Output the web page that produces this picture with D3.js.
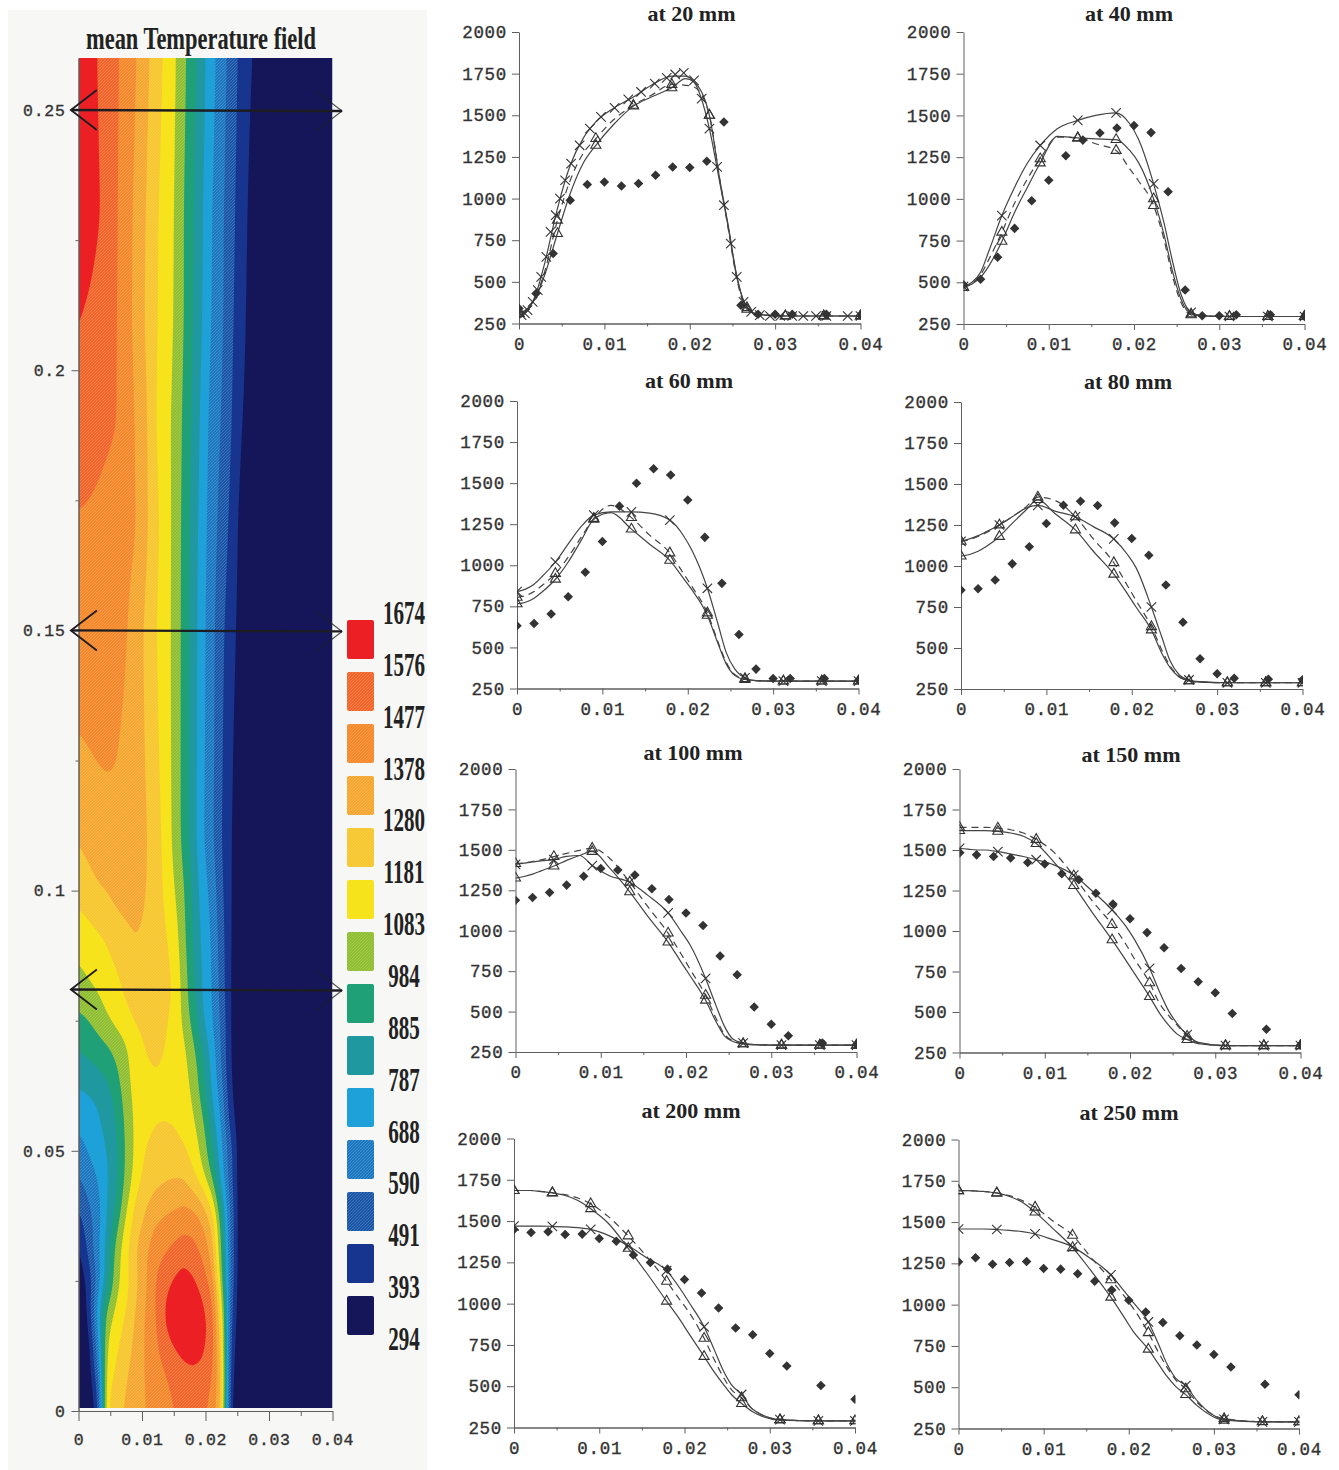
<!DOCTYPE html>
<html lang="en">
<head>
<meta charset="UTF-8">
<title>mean Temperature field</title>
<script src="https://d3js.org/d3.v7.min.js"></script>
<style>
  html, body { margin: 0; background: #fff; }
  svg { display: block; }
  .mono { font-family: "Liberation Mono", monospace; fill: #333; stroke: #333; stroke-width: .35px; }
  .serif { font-family: "Liberation Serif", serif; font-weight: bold; fill: #222; }
</style>
</head>
<body>
<svg id="chart" width="1339" height="1470"></svg>
<script>
// ---- temperature field: rows of T ----
const fieldR = [0, .0015, .003, .0045, .006, .0075, .009, .0105, .012, .0135, .015, .0165, .018, .0195, .021, .0225, .024, .0255, .027, .04];
const fieldZ = [.26, .23, .21, .19, .17, .15, .13, .11, .10, .09, .085, .08, .075, .07, .065, .06, .055, .05, .045, .04, .035, .03, .025, .02, .015, .01, .005, 0];
const fieldT = [
  [1680,1630,1572,1530,1490,1440,1385,1315,1240,1170,1105,1010,925,820,722,637,552,466,395,294],
  [1660,1630,1590,1540,1485,1420,1358,1285,1205,1145,1088,990,895,795,690,612,530,440,375,294],
  [1578,1560,1535,1510,1482,1418,1352,1275,1200,1140,1083,990,888,784,680,610,515,430,365,294],
  [1540,1530,1515,1498,1480,1430,1372,1305,1190,1125,1065,970,870,755,650,587,500,400,360,294],
  [1465,1460,1450,1435,1420,1405,1385,1307,1218,1140,1062,960,850,735,635,555,465,365,340,294],
  [1440,1435,1430,1420,1405,1385,1336,1266,1195,1130,1062,955,845,720,622,518,430,360,330,294],
  [1378,1388,1395,1395,1385,1365,1340,1275,1210,1140,1060,955,840,715,620,505,410,345,325,294],
  [1288,1310,1335,1350,1358,1350,1335,1295,1230,1160,1060,955,835,705,610,495,395,340,320,294],
  [1222,1245,1270,1288,1315,1325,1318,1285,1240,1170,1093,1000,870,740,655,515,393,335,315,294],
  [1105,1130,1155,1178,1215,1250,1276,1262,1235,1200,1150,1020,885,770,680,540,390,330,312,294],
  [1083,1105,1130,1160,1183,1220,1250,1250,1235,1210,1165,1040,900,775,685,545,385,325,310,294],
  [1023,1050,1078,1115,1150,1190,1225,1240,1235,1210,1180,1050,915,785,690,555,385,325,305,294],
  [960,980,1025,1080,1125,1160,1195,1210,1215,1200,1150,1065,940,800,690,570,385,322,305,294],
  [899,920,945,970,1010,1060,1130,1185,1198,1185,1140,1110,1015,880,745,580,385,322,303,294],
  [825,845,870,900,975,1065,1125,1165,1178,1170,1150,1120,1050,920,770,590,390,322,302,294],
  [760,770,790,845,905,1035,1115,1150,1165,1165,1155,1125,1075,945,790,650,410,322,302,294],
  [705,730,770,815,885,1005,1105,1145,1170,1175,1170,1145,1105,1020,850,680,440,322,300,294],
  [650,695,740,790,875,1000,1110,1190,1220,1235,1230,1195,1145,1055,910,720,540,322,300,294],
  [590,640,690,770,865,1000,1115,1205,1240,1255,1265,1270,1190,1090,960,740,500,322,300,294],
  [510,580,650,790,890,1055,1205,1270,1310,1335,1355,1370,1360,1300,1150,870,570,320,300,294],
  [430,530,630,795,960,1120,1240,1300,1390,1420,1440,1465,1460,1400,1300,960,550,320,298,294],
  [370,510,690,850,1050,1175,1290,1385,1440,1475,1510,1540,1525,1470,1330,985,570,318,298,294],
  [310,395,560,830,1030,1135,1240,1340,1477,1540,1590,1625,1590,1535,1440,1020,560,315,298,294],
  [300,420,780,1000,1110,1180,1285,1385,1470,1585,1640,1670,1650,1600,1520,1150,520,310,296,294],
  [298,360,650,1070,1150,1215,1300,1385,1455,1570,1620,1660,1670,1620,1540,1220,480,308,296,294],
  [296,320,620,1110,1180,1250,1320,1385,1440,1490,1540,1570,1590,1580,1510,1250,440,305,296,294],
  [295,310,500,1150,1215,1280,1335,1380,1420,1455,1495,1530,1530,1520,1480,1300,420,300,295,294],
  [294,300,420,1180,1245,1300,1340,1375,1405,1435,1470,1495,1500,1490,1440,1250,380,297,295,294]
];
const legendLevels = [294, 393, 491, 590, 688, 787, 885, 984, 1083, 1181, 1280, 1378, 1477, 1576, 1674];
const bandColors = ["#141659", "#17358e", "#1a56a8", "#1b78c0", "#1ea0d8", "#1f989f", "#1fa077", "#8fbf30", "#f6e31c", "#f6c62c", "#f5a62e", "#f4882a", "#f1652a", "#ec2024"];
const bandHatched = [0, 0, 1, 1, 0, 0, 0, 1, 0, 1, 1, 1, 1, 0];
const arrowZ = [.25, .15, .081];

// ---- profile panels ----
const radiusLine = [0, .001, .002, .003, .0045, .006, .0075, .009, .011, .0134, .0155, .0179, .0195, .0205, .0223, .0235, .0245, .0255, .0267, .028, .0312, .0357, .04];
const markerIndex = [0, 4, 7, 9, 11, 14, 18, 20, 21, 22];
const radiusExpt = [0, .002, .004, .006, .008, .01, .012, .014, .016, .018, .02, .022, .024, .026, .028, .03, .032, .036, .04];

const triA20 = [310,340,410,540,790,1030,1210,1320,1440,1555,1610,1665,1720,1700,1500,1120,840,540,345,305,295,295,295];
const triB20 = [310,340,420,560,870,1110,1270,1360,1470,1560,1620,1685,1680,1670,1500,1120,820,520,335,305,295,295,295];
const cross20 = [300,330,430,610,940,1200,1360,1460,1540,1610,1680,1735,1735,1700,1420,1100,830,530,350,305,295,295,295];
const expt20 = [340,430,670,990,1084,1100,1076,1090,1140,1190,1186,1224,1460,360,305,305,305,305,300];
// the 20 mm cross curve carries many more marks than the others
const crossMarkR20 = [.0003,.0007,.001,.0016,.0022,.0026,.0032,.0037,.0043,.0048,.0054,.0061,.0071,.0083,.0096,.0112,.0128,.0143,.0159,.0173,.0183,.0193,.0205,.0214,.0223,.0232,.024,.0248,.0255,.0263,.0272,.0282,.0294,.0306,.032,.0333,.0348,.036,.0385,.04];
const crossMarkT20 = [300,310,330,380,450,530,650,800,900,1000,1110,1210,1320,1420,1490,1545,1595,1640,1690,1725,1745,1755,1710,1600,1420,1190,960,730,530,380,320,300,295,295,295,295,295,295,295,295];

const triA40 = [470,490,530,600,745,920,1070,1215,1375,1365,1360,1355,1290,1220,1000,790,570,400,310,298,295,295,295];
const triB40 = [470,495,545,640,800,975,1120,1240,1370,1365,1330,1290,1180,1110,960,760,540,380,305,298,295,295,295];
const cross40 = [475,500,560,690,900,1070,1215,1320,1420,1470,1500,1515,1450,1360,1090,860,630,430,320,300,295,295,295];
const expt40 = [485,518,650,823,989,1112,1258,1352,1395,1425,1440,1397,1042,454,300,300,305,305,295];

const triA60 = [765,775,800,840,915,1020,1150,1280,1320,1220,1130,1030,920,850,695,530,400,330,305,298,295,295,295];
const triB60 = [805,815,840,880,950,1050,1170,1285,1365,1290,1185,1075,950,870,710,540,410,335,310,298,295,295,295];
const cross60 = [840,855,885,935,1020,1130,1235,1305,1325,1325,1318,1275,1180,1090,860,650,470,370,315,298,295,295,295];
const expt60 = [632,646,703,808,957,1145,1360,1499,1588,1549,1397,1170,890,579,368,311,311,311,300];

const triA80 = [1060,1070,1090,1120,1180,1260,1335,1405,1320,1220,1090,950,830,750,610,470,380,325,300,292,288,288,288];
const triB80 = [1150,1160,1180,1205,1250,1300,1355,1420,1400,1300,1165,1020,880,790,630,490,390,330,300,292,288,288,288];
const cross80 = [1150,1165,1185,1210,1250,1300,1350,1370,1335,1300,1240,1165,1070,990,750,570,420,340,305,295,288,288,288];
const expt80 = [853,861,914,1013,1117,1259,1371,1395,1369,1263,1168,1066,884,657,434,343,316,310,306];

const triA100 = [1325,1335,1350,1370,1400,1435,1465,1490,1390,1240,1090,930,800,720,570,440,350,315,300,295,292,292,292];
const triB100 = [1415,1420,1428,1438,1458,1478,1497,1510,1450,1300,1150,985,850,760,600,460,360,320,300,295,292,292,292];
const cross100 = [1410,1418,1425,1432,1440,1460,1465,1403,1340,1300,1220,1110,990,910,705,540,410,330,305,295,292,292,292];
const expt100 = [1189,1205,1236,1282,1337,1385,1375,1344,1259,1193,1110,1032,844,728,528,422,350,305,297];

const triA150 = [1620,1620,1620,1620,1615,1605,1585,1540,1430,1280,1120,945,820,740,595,490,420,365,330,305,292,292,292];
const triB150 = [1640,1640,1640,1640,1635,1625,1605,1565,1490,1340,1190,1040,920,830,680,550,480,420,350,310,292,292,292];
const cross150 = [1510,1505,1500,1500,1490,1475,1460,1440,1410,1345,1250,1130,1030,950,770,620,510,430,360,312,292,292,292];
const expt150 = [1481,1470,1460,1450,1423,1413,1353,1316,1233,1167,1075,990,897,768,687,619,491,393,296];

const triA200 = [1685,1685,1685,1680,1670,1655,1625,1575,1490,1335,1190,1015,900,820,680,585,515,450,395,345,295,290,290];
const triB200 = [1685,1685,1685,1680,1672,1660,1640,1605,1530,1410,1290,1135,1020,950,790,660,560,480,430,360,298,290,290];
const cross200 = [1470,1470,1470,1470,1468,1465,1460,1450,1415,1350,1280,1200,1090,1010,860,720,600,510,450,360,298,290,290];
const expt200 = [1449,1431,1435,1419,1421,1395,1378,1294,1249,1209,1146,1065,973,852,811,698,623,504,421];

const triA250 = [1690,1690,1688,1685,1675,1655,1620,1560,1465,1345,1210,1045,920,840,730,640,565,505,455,390,300,290,290];
const triB250 = [1690,1690,1688,1685,1677,1660,1630,1590,1510,1420,1290,1150,1050,980,830,710,620,545,490,410,310,292,290];
const cross250 = [1458,1458,1458,1458,1455,1450,1442,1428,1395,1350,1280,1180,1080,1015,895,760,640,555,510,420,305,290,290];
const expt250 = [1259,1284,1245,1255,1261,1219,1215,1187,1142,1088,1027,955,892,811,755,698,623,518,455];

const panelTitles = ["at 20 mm", "at 40 mm", "at 60 mm", "at 80 mm", "at 100 mm", "at 150 mm", "at 200 mm", "at 250 mm"];
const panelSeries = [
  [triA20, triB20, cross20, expt20], [triA40, triB40, cross40, expt40],
  [triA60, triB60, cross60, expt60], [triA80, triB80, cross80, expt80],
  [triA100, triB100, cross100, expt100], [triA150, triB150, cross150, expt150],
  [triA200, triB200, cross200, expt200], [triA250, triB250, cross250, expt250]
];
const yTicks = [250, 500, 750, 1000, 1250, 1500, 1750, 2000];
const rTicks = [0, .01, .02, .03, .04];
const rMinor = [.005, .015, .025, .035];
const zTicks = [0, .05, .1, .15, .2, .25];
const zMinor = [.025, .075, .125, .175, .225];

// layout, kept apart from the data
const boxes = [
  {x0: 519, x1: 860.5, y0: 323.5, y1: 32, tx: 691.5, ty: 21},
  {x0: 963.5, x1: 1304.5, y0: 324, y1: 32, tx: 1129, ty: 21},
  {x0: 517, x1: 858.5, y0: 688.5, y1: 401, tx: 689, ty: 388},
  {x0: 961, x1: 1302.5, y0: 689, y1: 402, tx: 1128, ty: 389},
  {x0: 515.5, x1: 856.5, y0: 1052, y1: 769, tx: 693, ty: 760},
  {x0: 959.5, x1: 1300.5, y0: 1052.5, y1: 769, tx: 1131, ty: 762},
  {x0: 514, x1: 855, y0: 1427.5, y1: 1138.5, tx: 691, ty: 1118},
  {x0: 958.5, x1: 1299, y0: 1428.5, y1: 1139.5, tx: 1129, ty: 1120}
];

const svg = d3.select("#chart");
const defs = svg.append("defs");

// scanned page behind the field
svg.append("rect").attr("x", 8).attr("y", 10).attr("width", 419).attr("height", 1460).attr("fill", "#f7f7f5");

// hatched fills for the dithered bands
bandColors.forEach((c, i) => {
  if (!bandHatched[i]) return;
  const p = defs.append("pattern").attr("id", "band" + i).attr("patternUnits", "userSpaceOnUse")
    .attr("width", 3).attr("height", 3);
  p.append("rect").attr("width", 3).attr("height", 3).attr("fill", c);
  p.append("path").attr("d", "M-1,1L1,-1M0,3L3,0M2,4L4,2").attr("stroke", "#fff").attr("stroke-opacity", .2).attr("stroke-width", .8);
});
const bandFill = i => bandHatched[i] ? "url(#band" + i + ")" : bandColors[i];

// ---- left: the contour field ----
const xField = d3.scaleLinear().domain([0, .04]).range([78.5, 332.5]);
const zField = d3.scaleLinear().domain([0, .26]).range([1411, 58]);

// table lookup between the read rows, to feed d3.contours a fine grid
const nx = 254, ny = 677;
const iR = d3.scaleLinear().domain(fieldR).range(d3.range(fieldR.length));
const iZ = d3.scaleLinear().domain(fieldZ).range(d3.range(fieldZ.length));
const grid = new Float64Array(nx * ny);
for (let j = 0; j < ny; j++) {
  const z = .26 * (1 - j / (ny - 1));
  const fz = iZ(z), a = Math.min(Math.floor(fz), fieldZ.length - 2), tz = fz - a;
  for (let i = 0; i < nx; i++) {
    const r = .04 * i / (nx - 1);
    const fr = iR(r), b = Math.min(Math.floor(fr), fieldR.length - 2), tr = fr - b;
    const top = fieldT[a][b] * (1 - tr) + fieldT[a][b + 1] * tr;
    const bot = fieldT[a + 1][b] * (1 - tr) + fieldT[a + 1][b + 1] * tr;
    grid[i + j * nx] = top * (1 - tz) + bot * tz;
  }
}
if (d3.blur2) d3.blur2({data: grid, width: nx, height: ny}, 2, 7);

const toPage = d3.geoTransform({
  point: function(cx, cy) {
    this.stream.point(
      xField(.04 * (cx - .5) / (nx - 1)),
      zField(.26 * (1 - (cy - .5) / (ny - 1)))
    );
  }
});
const contourPath = d3.geoPath(toPage);
const contours = d3.contours().size([nx, ny]).smooth(true).thresholds(legendLevels.slice(1, 14))(grid);

defs.append("clipPath").attr("id", "fieldClip").append("rect")
  .attr("x", xField(0) + .5).attr("y", zField(.26))
  .attr("width", xField(.04) - xField(0) - .5).attr("height", zField(0) - 3 - zField(.26));

const field = svg.append("g").attr("clip-path", "url(#fieldClip)");
field.append("rect")
  .attr("x", xField(0)).attr("y", zField(.26))
  .attr("width", xField(.04) - xField(0)).attr("height", zField(0) - zField(.26))
  .attr("fill", bandColors[0]);
field.selectAll("path.band").data(contours).enter().append("path")
  .attr("class", "band")
  .attr("d", contourPath)
  .attr("fill", (d, i) => bandFill(i + 1));

const axisStyle = (g, labelSize) => {
  g.selectAll("path,line").attr("stroke", "#5f5f5f").attr("stroke-width", 1);
  g.selectAll("text").attr("class", "mono").attr("font-size", labelSize).style("letter-spacing", "0.7px");
};

svg.append("g").attr("transform", "translate(" + xField(0) + ",0)")
  .call(d3.axisLeft(zField).tickValues(zTicks).tickFormat(String).tickSize(7).tickPadding(6).tickSizeOuter(0))
  .call(axisStyle, 16.5);
svg.append("g").attr("transform", "translate(" + xField(0) + ",0)")
  .call(d3.axisLeft(zField).tickValues(zMinor).tickFormat("").tickSize(3).tickSizeOuter(0))
  .call(axisStyle, 0);
svg.append("g").attr("transform", "translate(0," + zField(0) + ")")
  .call(d3.axisBottom(xField).tickValues(rTicks).tickFormat(String).tickSize(10).tickPadding(12).tickSizeOuter(0))
  .call(axisStyle, 16.5);
svg.append("g").attr("transform", "translate(0," + zField(0) + ")")
  .call(d3.axisBottom(xField).tickValues(rMinor).tickFormat("").tickSize(5).tickSizeOuter(0))
  .call(axisStyle, 0);

// axial stations marked on the field
const arrowLine = d3.line();
arrowZ.forEach(z => {
  const y = zField(z), xl = xField(-.0012), xr = xField(.0415);
  const g = svg.append("g").attr("fill", "none").attr("stroke", "#1c1c22");
  g.append("path").attr("stroke-width", 2.4).attr("d", arrowLine([[xl, y], [xr, y + 1]]));
  g.append("path").attr("stroke-width", 1.8).attr("d", arrowLine([[xl + 26, y - 20], [xl, y], [xl + 26, y + 20]]));
  g.append("path").attr("stroke-width", 1.2).attr("stroke-opacity", .75).attr("d", arrowLine([[xr - 26, y - 19], [xr, y + 1], [xr - 26, y + 21]]));
});

svg.append("text").attr("class", "serif")
  .attr("x", 201).attr("y", 49).attr("text-anchor", "middle")
  .attr("font-size", 31).attr("textLength", 230).attr("lengthAdjust", "spacingAndGlyphs")
  .text("mean Temperature field");

// ---- legend ----
const swatchY = d3.scaleLinear().domain([13, 0]).range([620, 1296]);
const labelY = d3.scaleLinear().domain([14, 0]).range([624, 1350]);
svg.append("g").selectAll("rect").data(bandColors).enter().append("rect")
  .attr("x", 347).attr("width", 27).attr("height", 39).attr("rx", 2)
  .attr("y", (d, i) => swatchY(i))
  .attr("fill", (d, i) => bandFill(i));
svg.append("g").selectAll("text").data(legendLevels).enter().append("text")
  .attr("class", "serif")
  .attr("text-anchor", "middle").attr("font-size", 34)
  .attr("transform", (d, i) => "translate(404," + labelY(i) + ") scale(.62,1)")
  .text(d => d);

// ---- right: eight profile panels ----
panelSeries.forEach((series, k) => {
  const box = boxes[k];
  const x = d3.scaleLinear().domain([0, .04]).range([box.x0, box.x1]);
  const y = d3.scaleLinear().domain([250, 2000]).range([box.y0, box.y1]);
  const g = svg.append("g");

  g.append("text").attr("class", "serif")
    .attr("x", box.tx).attr("y", box.ty).attr("text-anchor", "middle")
    .attr("font-size", 22).text(panelTitles[k]);

  g.append("g").attr("transform", "translate(" + x(0) + ",0)")
    .call(d3.axisLeft(y).tickValues(yTicks).tickFormat(String).tickSize(7).tickPadding(5).tickSizeOuter(0))
    .call(axisStyle, 17.5);
  g.append("g").attr("transform", "translate(0," + y(250) + ")")
    .call(d3.axisBottom(x).tickValues(rTicks).tickFormat(String).tickSize(6).tickPadding(8).tickSizeOuter(0))
    .call(axisStyle, 17.5);
  g.append("g").attr("transform", "translate(0," + y(250) + ")")
    .call(d3.axisBottom(x).tickValues(rMinor).tickFormat("").tickSize(3).tickSizeOuter(0))
    .call(axisStyle, 0);

  const clipId = "panelClip" + k;
  defs.append("clipPath").attr("id", clipId).append("rect")
    .attr("x", x(0)).attr("y", y(2000) - 5)
    .attr("width", x(.04) - x(0) + .5).attr("height", y(250) - y(2000) + 5);
  const plot = g.append("g").attr("clip-path", "url(#" + clipId + ")");

  const line = d3.line().x((d, i) => x(radiusLine[i])).y(d => y(d)).curve(d3.curveMonotoneX);
  const triMark = d3.symbol().type(d3.symbolTriangle).size(44);
  const crossMark = d3.symbol().type(d3.symbolTimes).size(60);
  const exptMark = d3.symbol().type(d3.symbolDiamond2).size(58);

  const [triA, triB, cross, expt] = series;
  [triA, triB, cross].forEach((values, s) => {
    plot.append("path").attr("d", line(values)).attr("fill", "none")
      .attr("stroke", "#444").attr("stroke-width", 1.2)
      .attr("stroke-dasharray", s === 1 ? "7,5" : null);
  });

  [triA, triB].forEach(values => {
    plot.append("g").selectAll("path").data(markerIndex).enter().append("path")
      .attr("d", triMark)
      .attr("transform", i => "translate(" + x(radiusLine[i]) + "," + y(values[i]) + ")")
      .attr("fill", "none").attr("stroke", "#333").attr("stroke-width", 1.1);
  });

  const crossPoints = k === 0
    ? crossMarkR20.map((r, i) => [r, crossMarkT20[i]])
    : markerIndex.map(i => [radiusLine[i], cross[i]]);
  plot.append("g").selectAll("path").data(crossPoints).enter().append("path")
    .attr("d", crossMark)
    .attr("transform", d => "translate(" + x(d[0]) + "," + y(d[1]) + ")")
    .attr("fill", "none").attr("stroke", "#333").attr("stroke-width", 1.1);

  plot.append("g").selectAll("path").data(expt).enter().append("path")
    .attr("d", exptMark)
    .attr("transform", (d, i) => "translate(" + x(radiusExpt[i]) + "," + y(d) + ")")
    .attr("fill", "#333");
});
</script>
</body>
</html>
